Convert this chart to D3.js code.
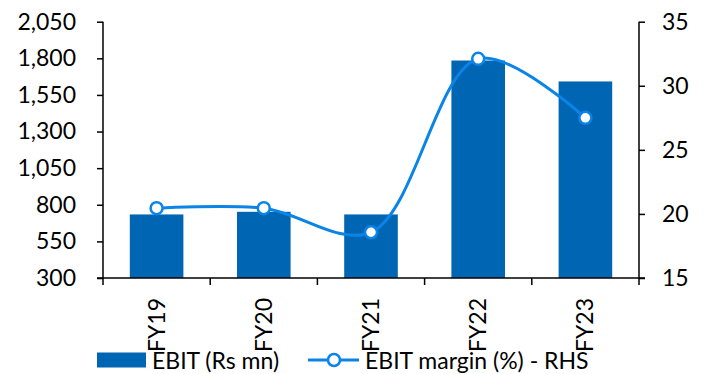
<!DOCTYPE html>
<html><head><meta charset="utf-8">
<script src="https://cdn.jsdelivr.net/npm/d3@7"></script>
<style>body{margin:0;background:#fff;} svg{display:block;} text{font-family:Lato,"Open Sans",sans-serif;fill:#000;}</style>
</head><body>
<svg id="c" width="707" height="374"></svg>
<script>
const categories = ["FY19","FY20","FY21","FY22","FY23"];
const ebit = [734, 752, 734, 1785, 1642];
const margin = [20.45, 20.45, 18.57, 32.1, 27.5];
const leftTicks = [300,550,800,1050,1300,1550,1800,2050];
const rightTicks = [15,20,25,30,35];

const barColor = "#0066B3", lineColor = "#0A84E6";
const svg = d3.select("#c");
const L = 103, R = 639, T = 21.7, B = 278;
const x = d3.scaleBand().domain(categories).range([L,R]).paddingInner(0.5).paddingOuter(0.25);
const xb = d3.scaleBand().domain(categories).range([L,R]);
const yL = d3.scaleLinear().domain([300,2050]).range([B,T]);
const yR = d3.scaleLinear().domain([15,35]).range([B,T]);
const fs = 23;

svg.append("g").selectAll("rect").data(ebit).join("rect")
  .attr("x",(d,i)=>x(categories[i])).attr("width",x.bandwidth())
  .attr("y",d=>yL(d)).attr("height",d=>B-yL(d)).attr("fill",barColor);

// axes
const gl = svg.append("g").attr("transform",`translate(${L},0)`)
  .call(d3.axisLeft(yL).tickValues(leftTicks).tickSize(6).tickPadding(21).tickFormat(d3.format(",")));
const gr = svg.append("g").attr("transform",`translate(${R},0)`)
  .call(d3.axisRight(yR).tickValues(rightTicks).tickSize(6).tickPadding(17));
[gl,gr].forEach(g=>{
  g.select(".domain").attr("stroke","#000").attr("stroke-width",1.5).attr("d",`M0,${T}V${B+7}`);
  g.selectAll(".tick line").attr("stroke","#000").attr("stroke-width",1.5);
  g.selectAll("text").style("font-size",fs+"px").attr("font-family","Lato");
});
// x axis
const gx = svg.append("g");
gx.append("line").attr("x1",L-6).attr("x2",R+6).attr("y1",B).attr("y2",B).attr("stroke","#000").attr("stroke-width",1.5);
gx.selectAll("line.t").data(categories.slice(1)).join("line").attr("class","t")
  .attr("x1",d=>xb(d)).attr("x2",d=>xb(d)).attr("y1",B).attr("y2",B+7).attr("stroke","#000").attr("stroke-width",1.5);
gx.selectAll("text").data(categories).join("text")
  .attr("transform",d=>`translate(${xb(d)+xb.bandwidth()/2+8},${B+20}) rotate(-90)`)
  .attr("text-anchor","end").style("font-size",fs+"px").text(d=>d);

// line
const pts = margin.map((v,i)=>[xb(categories[i])+xb.bandwidth()/2, yR(v)]);
svg.append("path").attr("d", d3.line().curve(d3.curveCatmullRom.alpha(0.5))(pts))
  .attr("fill","none").attr("stroke",lineColor).attr("stroke-width",3);
svg.append("g").selectAll("circle").data(pts).join("circle")
  .attr("cx",d=>d[0]).attr("cy",d=>d[1]).attr("r",6)
  .attr("fill","#fff").attr("stroke",lineColor).attr("stroke-width",2.5);

// legend
const lg = svg.append("g");
lg.append("rect").attr("x",97).attr("y",352.5).attr("width",49).attr("height",15).attr("fill",barColor);
lg.append("text").attr("x",152).attr("y",368.5).style("font-size",fs+"px").text("EBIT (Rs mn)");
lg.append("line").attr("x1",308).attr("x2",359).attr("y1",360).attr("y2",360).attr("stroke",lineColor).attr("stroke-width",3);
lg.append("circle").attr("cx",334).attr("cy",360).attr("r",6).attr("fill","#fff").attr("stroke",lineColor).attr("stroke-width",2.5);
lg.append("text").attr("x",365).attr("y",368.5).style("font-size",fs+"px").text("EBIT margin (%) - RHS");
</script>
</body></html>
